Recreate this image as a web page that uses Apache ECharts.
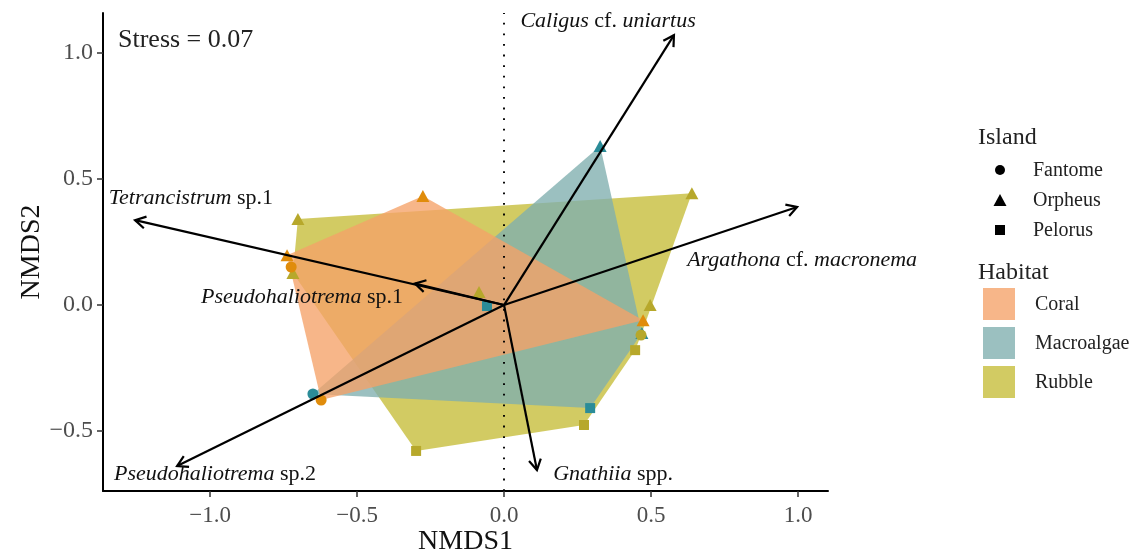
<!DOCTYPE html>
<html>
<head>
<meta charset="utf-8">
<script src="https://cdn.jsdelivr.net/npm/echarts@6/dist/echarts.min.js"></script>
<style>html,body{margin:0;padding:0;background:#fff}#c{width:1144px;height:553px}</style>
</head>
<body>
<div id="c"></div>
<script>
// ---------------- DATA ----------------
const habitats = ['Coral', 'Macroalgae', 'Rubble'];
const islands = ['Fantome', 'Orpheus', 'Pelorus'];

const siteHabitat = [
  'Coral','Coral','Coral','Coral','Coral',
  'Macroalgae','Macroalgae','Macroalgae','Macroalgae','Macroalgae',
  'Rubble','Rubble','Rubble','Rubble','Rubble','Rubble','Rubble','Rubble','Rubble'
];
const siteIsland = [
  'Orpheus','Orpheus','Fantome','Fantome','Orpheus',
  'Orpheus','Orpheus','Pelorus','Fantome','Pelorus',
  'Orpheus','Orpheus','Orpheus','Pelorus','Pelorus','Pelorus','Orpheus','Orpheus','Fantome'
];
const nmds1 = [
  -0.276, -0.738, -0.724, -0.622, 0.473,
  0.327, 0.469, 0.293, -0.650, -0.058,
  -0.701, 0.639, 0.497, 0.446, 0.272, -0.299, -0.718, -0.085, 0.466
];
const nmds2 = [
  0.433, 0.198, 0.151, -0.377, -0.060,
  0.631, -0.111, -0.409, -0.353, -0.004,
  0.341, 0.444, 0.000, -0.179, -0.476, -0.579, 0.127, 0.052, -0.119
];

const speciesRich = [
  '{i|Caligus} cf. {i|uniartus}',
  '{i|Tetrancistrum} sp.1',
  '{i|Argathona} cf. {i|macronema}',
  '{i|Pseudohaliotrema} sp.1',
  '{i|Pseudohaliotrema} sp.2',
  '{i|Gnathiia} spp.'
];
const vecX = [0.578, -1.255, 0.997, -0.303, -1.112, 0.112];
const vecY = [1.071, 0.337, 0.389, 0.085, -0.639, -0.655];
// label anchor points (data units)
const labX = [0.354, -1.065, 1.014, -0.687, -0.983, 0.371];
const labY = [1.127, 0.425, 0.179, 0.032, -0.671, -0.671];

const xTicks = [-1.0, -0.5, 0.0, 0.5, 1.0];
const yTicks = [-0.5, 0.0, 0.5, 1.0];
const stressText = 'Stress = 0.07';

// ---------------- STYLE ----------------
const FONT = '"Liberation Serif", "DejaVu Serif", serif';
const fillBase = { Coral: 'rgba(245,161,104,0.78)', Macroalgae: 'rgba(127,174,174,0.78)', Rubble: 'rgba(197,189,55,0.78)' };
const pointCol = { Coral: '#E08C0B', Macroalgae: '#2B8C98', Rubble: '#B7A82B' };
const symOf = { Fantome: 'circle', Orpheus: 'triangle', Pelorus: 'rect' };
const sizeOf = { Fantome: 11, Orpheus: [13, 12], Pelorus: 10 };

function hull(pts) {
  const p = pts.slice().sort((a, b) => a[0] - b[0] || a[1] - b[1]);
  const cross = (o, a, b) => (a[0]-o[0])*(b[1]-o[1]) - (a[1]-o[1])*(b[0]-o[0]);
  const lo = [], up = [];
  for (const q of p) { while (lo.length >= 2 && cross(lo[lo.length-2], lo[lo.length-1], q) <= 0) lo.pop(); lo.push(q); }
  for (let i = p.length - 1; i >= 0; i--) { const q = p[i]; while (up.length >= 2 && cross(up[up.length-2], up[up.length-1], q) <= 0) up.pop(); up.push(q); }
  up.pop(); lo.pop();
  return lo.concat(up);
}
const hulls = {};
habitats.forEach(h => {
  const pts = [];
  siteHabitat.forEach((hh, i) => { if (hh === h) pts.push([nmds1[i], nmds2[i]]); });
  hulls[h] = hull(pts);
});
const hullOrder = ['Rubble', 'Macroalgae', 'Coral'];

const fmt = v => (v < 0 ? '\u2212' : '') + Math.abs(v).toFixed(1);

const series = [];
// polygons
series.push({
  type: 'custom',
  coordinateSystem: 'cartesian2d',
  silent: true,
  data: hullOrder.map((h, k) => [hulls[h][0][0], hulls[h][0][1], k]),
  renderItem: (params, api) => {
    const h = hullOrder[params.dataIndex];
    return { type: 'polygon', shape: { points: hulls[h].map(p => api.coord(p)) }, style: { fill: fillBase[h], stroke: 'none' } };
  },
  markLine: {
    silent: true, symbol: 'none', label: { show: false },
    lineStyle: { color: '#000', width: 1.9, type: [1.8, 8.8] },
    data: [{ xAxis: 0 }]
  },
  z: 1
});
// points
['Macroalgae', 'Rubble', 'Coral'].forEach(h => {
  const d = [];
  siteHabitat.forEach((hh, i) => {
    if (hh === h) d.push({ value: [nmds1[i], nmds2[i]], symbol: symOf[siteIsland[i]], symbolSize: sizeOf[siteIsland[i]] });
  });
  series.push({ type: 'scatter', name: h, data: d, itemStyle: { color: pointCol[h], opacity: 1 }, silent: true, z: 3 });
});
// arrows
series.push({
  type: 'custom', coordinateSystem: 'cartesian2d', silent: true, z: 4,
  data: vecX.map((x, i) => [x, vecY[i]]),
  renderItem: (params, api) => {
    const o = api.coord([0, 0]);
    const e = api.coord([api.value(0), api.value(1)]);
    const ang = Math.atan2(e[1] - o[1], e[0] - o[0]);
    const L = 12, a = Math.PI / 6;
    const p1 = [e[0] - L * Math.cos(ang - a), e[1] - L * Math.sin(ang - a)];
    const p2 = [e[0] - L * Math.cos(ang + a), e[1] - L * Math.sin(ang + a)];
    const st = { stroke: '#000', lineWidth: 2.2, fill: 'none', lineJoin: 'miter' };
    return { type: 'group', children: [
      { type: 'line', shape: { x1: o[0], y1: o[1], x2: e[0], y2: e[1] }, style: st },
      { type: 'polyline', shape: { points: [p1, e, p2] }, style: st }
    ]};
  }
});
// labels
series.push({
  type: 'custom', coordinateSystem: 'cartesian2d', silent: true, z: 5,
  data: labX.map((x, i) => [x, labY[i]]),
  renderItem: (params, api) => {
    const c = api.coord([api.value(0), api.value(1)]);
    return { type: 'text', x: c[0], y: c[1], style: {
      text: speciesRich[params.dataIndex], fontSize: 22, fontFamily: FONT, fill: '#111',
      align: 'center', verticalAlign: 'middle',
      rich: { i: { fontStyle: 'italic', fontSize: 22, fontFamily: FONT, fill: '#111' } }
    }};
  }
});

const legendG = [];
const tstyle = (t, x, y, size) => ({ type: 'text', x, y, style: { text: t, fontSize: size, fontFamily: FONT, fill: '#222', align: 'left', verticalAlign: 'middle' } });
legendG.push(tstyle('Island', 978, 138, 24));
legendG.push({ type: 'circle', shape: { cx: 1000, cy: 170, r: 5 }, style: { fill: '#000' } });
legendG.push({ type: 'polygon', shape: { points: [[1000, 194], [1006.5, 206], [993.5, 206]] }, style: { fill: '#000' } });
legendG.push({ type: 'rect', shape: { x: 995, y: 225, width: 10, height: 10 }, style: { fill: '#000' } });
islands.forEach((s, i) => legendG.push(tstyle(s, 1033, 171 + i * 30, 20)));
legendG.push(tstyle('Habitat', 978, 273, 24));
habitats.forEach((h, i) => {
  legendG.push({ type: 'rect', shape: { x: 983, y: 288 + i * 39, width: 32, height: 32 }, style: { fill: fillBase[h] } });
  legendG.push(tstyle(h, 1035, 305 + i * 39, 20));
});
legendG.push(tstyle(stressText, 118, 40, 26));

const axisCommon = {
  type: 'value',
  splitLine: { show: false },
  axisLine: { show: true, onZero: false, lineStyle: { color: '#000', width: 2 } },
  axisTick: { show: true, inside: false, length: 6, lineStyle: { color: '#333', width: 1.5 } },
  nameMoveOverlap: false,
  nameTextStyle: { fontSize: 28, fontFamily: FONT, color: '#111' }
};

const option = {
  animation: false,
  backgroundColor: '#fff',
  grid: { left: 103, right: 316, top: 13, bottom: 62, containLabel: false, outerBoundsMode: 'none' },
  xAxis: Object.assign({}, axisCommon, {
    min: -1.364, max: 1.102,
    name: 'NMDS1', nameLocation: 'middle', nameGap: 37,
    axisTick: Object.assign({}, axisCommon.axisTick, { customValues: xTicks }),
    axisLabel: { customValues: xTicks, formatter: fmt, fontSize: 23, fontFamily: FONT, color: '#4D4D4D', margin: 13 }
  }),
  yAxis: Object.assign({}, axisCommon, {
    min: -0.738, max: 1.159,
    name: 'NMDS2', nameLocation: 'middle', nameGap: 57, nameRotate: 90,
    axisTick: Object.assign({}, axisCommon.axisTick, { customValues: yTicks }),
    axisLabel: { customValues: yTicks, formatter: fmt, fontSize: 24, fontFamily: FONT, color: '#4D4D4D', margin: 10 }
  }),
  graphic: legendG,
  series
};

const chart = echarts.init(document.getElementById('c'), null, { renderer: 'canvas' });
chart.setOption(option);
</script>
</body>
</html>
